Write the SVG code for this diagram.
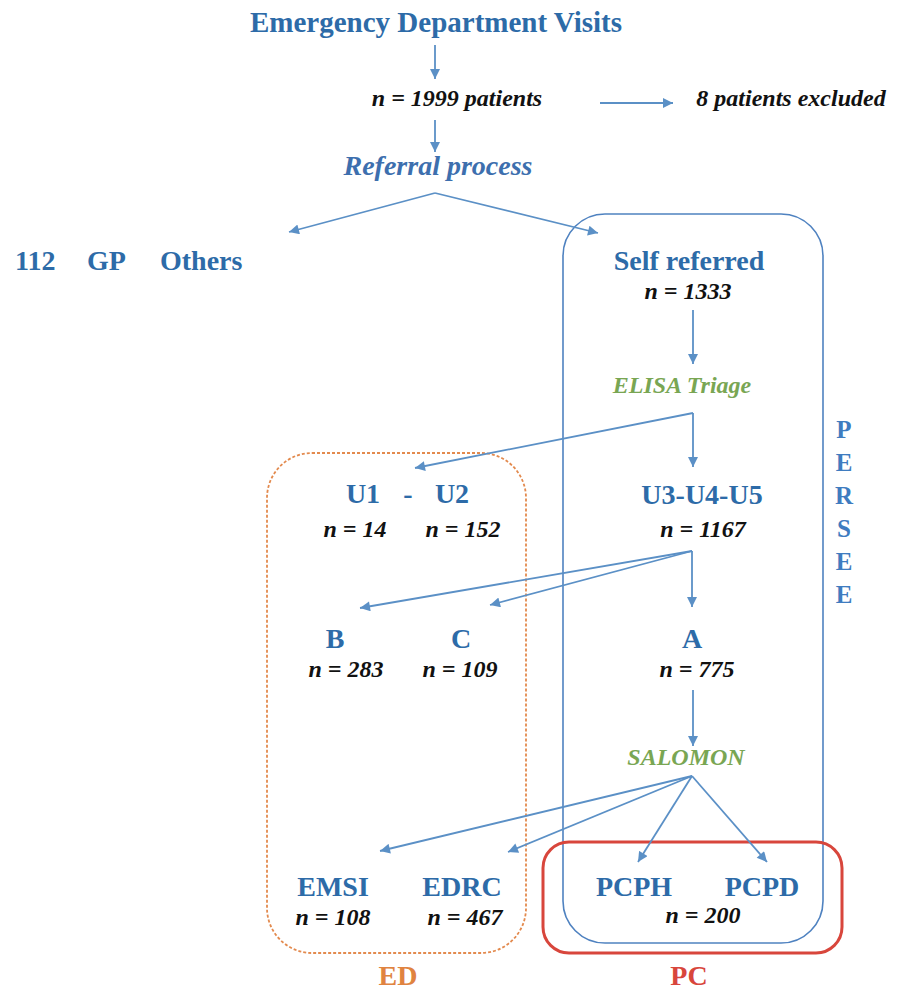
<svg xmlns="http://www.w3.org/2000/svg" width="897" height="994" viewBox="0 0 897 994">
<defs>
<marker id="ah" viewBox="0 0 10 10" refX="10" refY="5" markerWidth="11" markerHeight="10" markerUnits="userSpaceOnUse" orient="auto">
<path d="M0,0 L10,5 L0,10 z" fill="#5b90c6"/>
</marker>
<style>
text{font-family:"Liberation Serif","DejaVu Serif",serif}
.t{font-weight:bold;font-size:28px;fill:#2d6ba8;text-anchor:middle}
.n{font-weight:bold;font-style:italic;font-size:24px;fill:#111;text-anchor:middle}
.g{font-weight:bold;font-style:italic;font-size:24px;fill:#79a653;text-anchor:middle}
.p{font-weight:bold;font-size:25px;fill:#3f7cc0;text-anchor:middle}
.c{fill:none;stroke:#5b90c6;stroke-width:1.8;marker-end:url(#ah)}
</style>
</defs>
<rect width="897" height="994" fill="#fff"/>

<g id="box-persee">
<rect x="563" y="214" width="260" height="729" rx="42" fill="none" stroke="#4f82c0" stroke-width="1.6"/>
<text class="p" x="844" y="438">P</text>
<text class="p" x="844" y="471">E</text>
<text class="p" x="844" y="504">R</text>
<text class="p" x="844" y="537">S</text>
<text class="p" x="844" y="570">E</text>
<text class="p" x="844" y="603">E</text>
</g>
<g id="box-ed">
<rect x="267" y="453" width="259" height="500" rx="45" fill="none" stroke="#e38a4e" stroke-width="1.8" stroke-dasharray="3,2"/>
<text class="t" x="398" y="985" style="fill:#e08340">ED</text>
</g>
<g id="box-pc">
<rect x="543" y="842" width="299" height="111" rx="26" fill="none" stroke="#d8463c" stroke-width="3"/>
<text class="t" x="689" y="985" style="fill:#d8463c">PC</text>
</g>

<g id="connectors">
<line class="c" x1="435" y1="45" x2="435" y2="79"/>
<line class="c" x1="600" y1="103" x2="673" y2="103"/>
<line class="c" x1="435" y1="120" x2="435" y2="152"/>
<line class="c" x1="435" y1="193" x2="289" y2="232"/>
<line class="c" x1="435" y1="193" x2="598" y2="233"/>
<line class="c" x1="693" y1="310" x2="693" y2="364"/>
<line class="c" x1="693" y1="413" x2="693" y2="467"/>
<line class="c" x1="693" y1="413" x2="415" y2="468"/>
<line class="c" x1="692" y1="551" x2="692" y2="607"/>
<line class="c" x1="692" y1="551" x2="360" y2="608"/>
<line class="c" x1="692" y1="551" x2="490" y2="605"/>
<line class="c" x1="693" y1="690" x2="693" y2="746"/>
<line class="c" x1="692" y1="776" x2="380" y2="851"/>
<line class="c" x1="692" y1="776" x2="508" y2="852"/>
<line class="c" x1="692" y1="776" x2="638" y2="862"/>
<line class="c" x1="692" y1="776" x2="767" y2="862"/>
</g>

<g id="node-ed-visits"><text class="t" x="436" y="32" style="font-size:29px">Emergency Department Visits</text></g>
<g id="node-1999"><text class="n" x="457" y="106">n = 1999 patients</text></g>
<g id="node-excluded"><text class="n" x="791" y="106">8 patients excluded</text></g>
<g id="node-referral"><text class="t" x="438" y="175" style="font-style:italic;fill:#3d6fae">Referral process</text></g>
<g id="node-others">
<text class="t" x="15" y="270" style="text-anchor:start">112</text>
<text class="t" x="87" y="270" style="text-anchor:start">GP</text>
<text class="t" x="160" y="270" style="text-anchor:start">Others</text>
</g>
<g id="node-self"><text class="t" x="689" y="270">Self referred</text><text class="n" x="688" y="299">n = 1333</text></g>
<g id="node-elisa"><text class="g" x="682" y="393">ELISA Triage</text></g>
<g id="node-u1u2">
<text class="t" x="363" y="503">U1</text><text class="t" x="408" y="503">-</text><text class="t" x="452" y="503">U2</text>
<text class="n" x="355" y="537">n = 14</text><text class="n" x="463" y="537">n = 152</text>
</g>
<g id="node-u3u5"><text class="t" x="702" y="504">U3-U4-U5</text><text class="n" x="703" y="537">n = 1167</text></g>
<g id="node-b"><text class="t" x="335" y="648">B</text><text class="n" x="346" y="677">n = 283</text></g>
<g id="node-c"><text class="t" x="461" y="648">C</text><text class="n" x="460" y="677">n = 109</text></g>
<g id="node-a"><text class="t" x="692" y="648">A</text><text class="n" x="697" y="677">n = 775</text></g>
<g id="node-salomon"><text class="g" x="686" y="765">SALOMON</text></g>
<g id="node-emsi"><text class="t" x="333" y="896">EMSI</text><text class="n" x="333" y="925">n = 108</text></g>
<g id="node-edrc"><text class="t" x="462" y="896">EDRC</text><text class="n" x="465" y="925">n = 467</text></g>
<g id="node-pcph"><text class="t" x="634" y="896">PCPH</text></g>
<g id="node-pcpd"><text class="t" x="762" y="896">PCPD</text></g>
<g id="node-pc-n"><text class="n" x="703" y="923">n = 200</text></g>
</svg>
